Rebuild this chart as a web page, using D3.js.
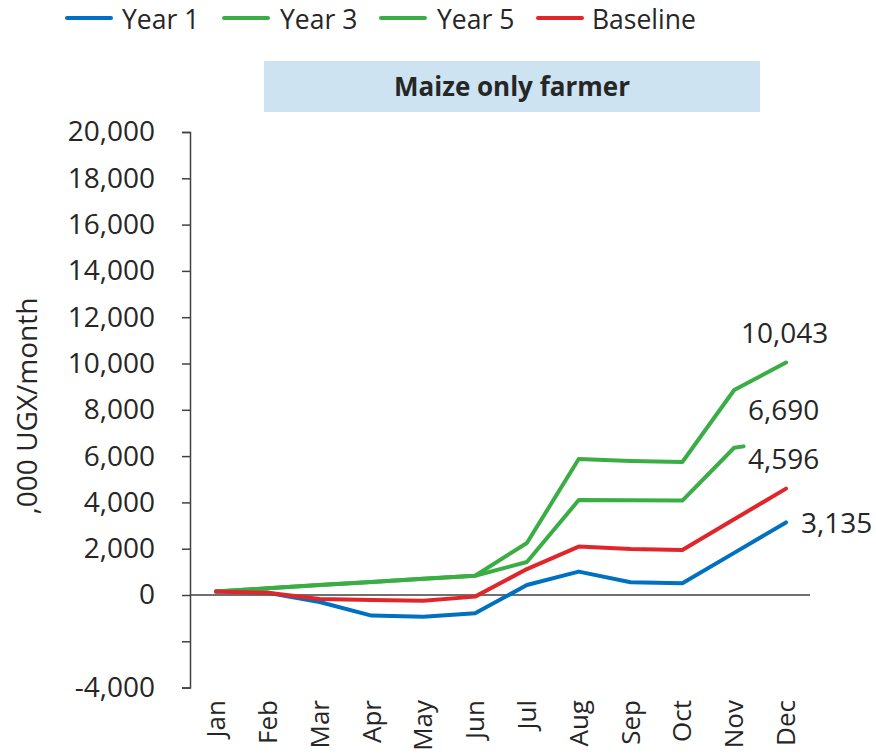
<!DOCTYPE html>
<html>
<head>
<meta charset="utf-8">
<script src="https://cdn.jsdelivr.net/npm/d3@7"></script>
<style>
  html, body { margin: 0; padding: 0; background: #fff; }
  svg text { font-family: "Open Sans", Lato, sans-serif; fill: #262626; }
</style>
</head>
<body>
<svg id="chart" width="876" height="756"></svg>
<script>
// Monthly net cash position, maize only farmer ('000 UGX / month)
const months = ["Jan","Feb","Mar","Apr","May","Jun","Jul","Aug","Sep","Oct","Nov","Dec"];
const year1    = [150, 100, -300, -890, -935, -790, 430, 1010, 550, 505, 1820, 3135];
const year3    = [150, 290, 430, 560, 700, 830, 1425, 4100, 4090, 4080, 6360, 6690];
const year5    = [150, 290, 430, 560, 700, 830, 2246, 5875, 5790, 5745, 8855, 10043];
const baseline = [150, 100, -170, -216, -250, -70, 1120, 2090, 1990, 1940, 3270, 4596];
const yTicks = [-4000, -2000, 0, 2000, 4000, 6000, 8000, 10000, 12000, 14000, 16000, 18000, 20000];
const yTickLabels = ["-4,000", "", "0", "2,000", "4,000", "6,000", "8,000", "10,000", "12,000", "14,000", "16,000", "18,000", "20,000"];

const series = [
  { name: "Year 1",   values: year1,    color: "#0070c0", partial: null },
  { name: "Year 3",   values: year3,    color: "#3aae45", partial: 0.18 },
  { name: "Year 5",   values: year5,    color: "#3aae45", partial: null },
  { name: "Baseline", values: baseline, color: "#e0262b", partial: null }
];

const svg = d3.select("#chart");
const fmt = d3.format(",");

const x = d3.scalePoint().domain(months).range([216, 786]);
const y = d3.scaleLinear().domain([-4000, 20000]).range([687.6, 132]);
const axisColor = "#404040";

// Legend
const legendPos = [
  { lx: 67,  tx: 122 },
  { lx: 224, tx: 280 },
  { lx: 381, tx: 437 },
  { lx: 538, tx: 592 }
];
const legend = svg.append("g");
series.forEach((s, i) => {
  const p = legendPos[i];
  legend.append("line")
    .attr("x1", p.lx).attr("x2", p.lx + 44)
    .attr("y1", 18).attr("y2", 18)
    .attr("stroke", s.color).attr("stroke-width", 4)
    .attr("stroke-linecap", "round");
  legend.append("text")
    .attr("x", p.tx).attr("y", 20).attr("dy", "0.35em")
    .attr("font-size", 26.5)
    .text(s.name);
});

// Panel title
svg.append("rect")
  .attr("x", 264).attr("y", 61).attr("width", 496).attr("height", 51)
  .attr("fill", "#cde3f2");
svg.append("text")
  .attr("x", 512).attr("y", 87).attr("dy", "0.35em")
  .attr("text-anchor", "middle")
  .attr("font-size", 26).attr("font-weight", 700)
  .text("Maize only farmer");

// Y axis
const yAxis = d3.axisLeft(y)
  .tickValues(yTicks)
  .tickSize(8)
  .tickPadding(27)
  .tickFormat((d, i) => yTickLabels[i]);
const yg = svg.append("g").attr("transform", "translate(190,0)").call(yAxis);
yg.select(".domain").attr("stroke", axisColor).attr("stroke-width", 1.5);
yg.selectAll(".tick line").attr("stroke", axisColor).attr("stroke-width", 1.5);
yg.selectAll(".tick text")
  .attr("font-family", "'Open Sans', sans-serif")
  .attr("font-size", 28).attr("fill", "#262626");

// Zero line / x axis
svg.append("line")
  .attr("x1", 190).attr("x2", 810)
  .attr("y1", y(0)).attr("y2", y(0))
  .attr("stroke", axisColor).attr("stroke-width", 1.5);

// Month labels
svg.append("g").selectAll("text")
  .data(months).join("text")
  .attr("transform", d => `translate(${x(d)},700) rotate(-90)`)
  .attr("text-anchor", "end")
  .attr("dy", "0.35em")
  .attr("font-size", 26)
  .text(d => d);

// Y axis title
svg.append("text")
  .attr("transform", "translate(27,406) rotate(-90)")
  .attr("text-anchor", "middle")
  .attr("dy", "0.35em")
  .attr("font-size", 28)
  .text(",000 UGX/month");

// Lines
const line = d3.line().x(d => d[0]).y(d => d[1]);
series.forEach(s => {
  let pts = s.values.map((v, i) => [x(months[i]), y(v)]);
  if (s.partial !== null) {
    // last segment is only drawn a short way toward December
    const a = pts[pts.length - 2], b = pts[pts.length - 1];
    pts = pts.slice(0, -1);
    pts.push([a[0] + (b[0] - a[0]) * s.partial, a[1] + (b[1] - a[1]) * s.partial]);
  }
  svg.append("path")
    .attr("d", line(pts))
    .attr("fill", "none")
    .attr("stroke", s.color)
    .attr("stroke-width", 4)
    .attr("stroke-linejoin", "round")
    .attr("stroke-linecap", "round");
});

// End-of-year value labels
const labelSpots = [
  { s: series[2], lx: 741, ly: 333 },
  { s: series[1], lx: 748, ly: 410 },
  { s: series[3], lx: 748, ly: 459 },
  { s: series[0], lx: 801, ly: 523 }
];
labelSpots.forEach(l => {
  svg.append("text")
    .attr("x", l.lx).attr("y", l.ly).attr("dy", "0.35em")
    .attr("font-size", 28)
    .text(fmt(l.s.values[l.s.values.length - 1]));
});
</script>
</body>
</html>
